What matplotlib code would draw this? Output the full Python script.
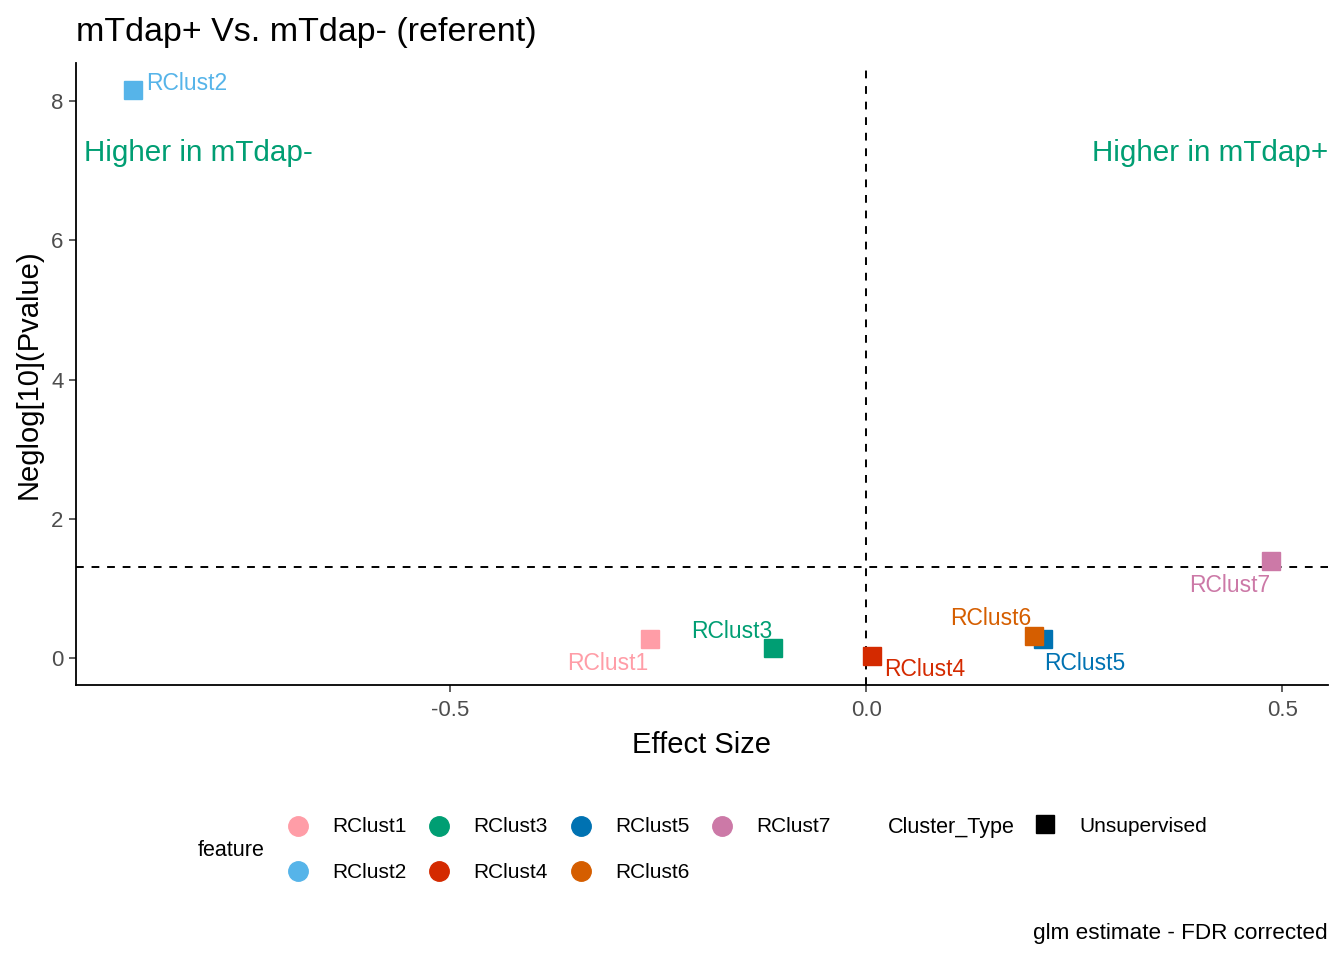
import matplotlib
matplotlib.use("Agg")
import matplotlib.pyplot as plt
from matplotlib.lines import Line2D

plt.rcParams['font.family'] = ['Liberation Sans', 'DejaVu Sans']

features = ["RClust1", "RClust2", "RClust3", "RClust4", "RClust5", "RClust6", "RClust7"]
effect = [-0.260, -0.882, -0.112, 0.007, 0.213, 0.201, 0.487]
neglogp = [0.27, 8.16, 0.14, 0.03, 0.27, 0.32, 1.39]
colors = ["#FF9DA7", "#56B4E9", "#009E73", "#D42A00", "#0072B2", "#D55E00", "#CC79A7"]
# label offsets (pixels) and alignment, emulating ggrepel placement
label_off = [(-2, -24, 'right'), (14, 7, 'left'), (-1, 17, 'right'), (12, -14, 'left'),
             (1, -24, 'left'), (-2, 17, 'right'), (-1, -24, 'right')]
xticks = [-0.5, 0.0, 0.5]
yticks = [0, 2, 4, 6, 8]
pthresh = 1.30103

fig = plt.figure(figsize=(13.44, 9.6), dpi=100)
ax = fig.add_axes([76/1344, 1-685/960, (1328-76)/1344, (685-63)/960])

ax.axhline(pthresh, color='black', ls=(0, (4, 4)), lw=1.4, zorder=1)
ax.axvline(0, color='black', ls=(0, (4, 4)), lw=1.4, zorder=1)

for i in range(len(features)):
    ax.plot(effect[i], neglogp[i], marker='s', ms=13, color=colors[i], ls='none', zorder=3)
    dx, dy, ha = label_off[i]
    ax.annotate(features[i], (effect[i], neglogp[i]), xytext=(dx, dy), textcoords='offset pixels',
                ha=ha, va='center', color=colors[i], fontsize=16.5)

ax.set_xlim(-0.95, 0.555)
ax.set_ylim(-0.39, 8.55)
ax.set_xticks(xticks)
ax.set_xticklabels([f"{t:.1f}" for t in xticks])
ax.set_yticks(yticks)
ax.tick_params(labelsize=16, colors='#4D4D4D', length=5, width=1.1, pad=4)
ax.tick_params(axis='x', pad=6)
ax.tick_params(axis='both', labelcolor='#4D4D4D', color='#333333')
for s in ['top', 'right']:
    ax.spines[s].set_visible(False)
for s in ['left', 'bottom']:
    ax.spines[s].set_linewidth(1.3)

ax.set_xlabel("Effect Size", fontsize=21, labelpad=7)
ax.set_ylabel("Neglog[10](Pvalue)", fontsize=21, labelpad=6)
ax.set_title("mTdap+ Vs. mTdap- (referent)", fontsize=24.5, loc='left', pad=16)

ax.text(-0.94, 7.26, "Higher in mTdap-", color="#009E73", fontsize=21.3, ha='left', va='center')
ax.text(0.555, 7.26, "Higher in mTdap+", color="#009E73", fontsize=21.3, ha='right', va='center')

# legend: feature
W, H = 1344, 960
def fx(px):
    return px / W
def fy(py):
    return 1 - py / H

fig.text(fx(198), fy(850), "feature", fontsize=15.5, ha='left', va='center')
col_x = [298, 439, 581, 722]
row_y = [826, 871]
for i, f in enumerate(features):
    c, r = divmod(i, 2)
    fig.add_artist(Line2D([fx(col_x[c])], [fy(row_y[r])], marker='o', ms=14, color=colors[i],
                          ls='none', transform=fig.transFigure))
    fig.text(fx(col_x[c] + 34), fy(row_y[r] + 1), f, fontsize=15, ha='left', va='center')

fig.text(fx(888), fy(827), "Cluster_Type", fontsize=15.5, ha='left', va='center')
fig.add_artist(Line2D([fx(1045)], [fy(824)], marker='s', ms=13, color='black',
                      ls='none', transform=fig.transFigure))
fig.text(fx(1079), fy(827), "Unsupervised", fontsize=15, ha='left', va='center')

fig.text(fx(1328), fy(934), "glm estimate - FDR corrected", fontsize=16.2, ha='right', va='center')

fig.savefig("out.png", dpi=100)
